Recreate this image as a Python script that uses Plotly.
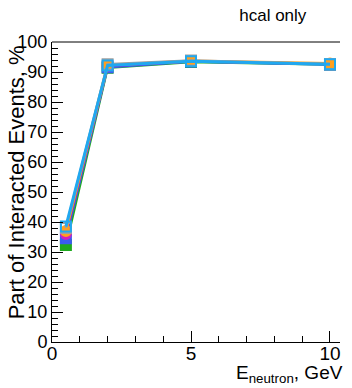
import plotly.graph_objects as go

energies = [0.5, 2, 5, 10]
series_names = ["s1", "s2", "s3", "s4", "s5", "s6"]
vals_green = [32.3, 91.4, 93.3, 92.5]
vals_blue = [34.6, 91.6, 93.5, 92.5]
vals_purple = [36.0, 92.0, 93.6, 92.7]
vals_orange = [37.0, 92.3, 93.7, 92.8]
vals_gray = [38.0, 92.6, 93.8, 92.7]
vals_sky = [38.5, 92.2, 93.6, 92.6]

styles = [
    (vals_green, "#1faa1f", "square", "#1faa1f", 2.5),
    (vals_blue, "#3a5cf0", "square", "#3a5cf0", 2.5),
    (vals_purple, "#9a10c8", "circle", "#d020c0", 2.5),
    (vals_orange, "#ffa020", "circle", "#ffa020", 3),
    (vals_gray, "#a0a0a0", "square-open", "#a0a0a0", 2.5),
    (vals_sky, "#20a8f0", "square-open", "#20a8f0", 3),
]

fig = go.Figure()
for (vals, col, sym, mcol, lw), nm in zip(styles, series_names):
    fig.add_trace(go.Scatter(
        x=energies, y=vals, mode="lines+markers", name=nm,
        line=dict(color=col, width=lw),
        marker=dict(symbol=sym, size=10, color=mcol,
                    line=dict(color=mcol, width=2)),
        showlegend=False,
    ))

font = "Liberation Sans, Arial, sans-serif"
fig.update_layout(
    width=352, height=388,
    margin=dict(l=52, r=12, t=42, b=46),
    paper_bgcolor="white", plot_bgcolor="white",
    font=dict(family=font, size=18, color="black"),
    title=dict(text="hcal only", x=0.775, xanchor="center", y=0.962,
               yanchor="middle", font=dict(size=17, family=font)),
    xaxis=dict(range=[0, 10.36], tickvals=[0, 5, 10], ticktext=["0", "5", "10"],
               ticks="inside", ticklen=11, tickwidth=1, tickcolor="black",
               minor=dict(dtick=1, ticks="inside", ticklen=6, tickcolor="black"),
               showgrid=False, zeroline=False, showline=True, linecolor="black",
               linewidth=1, mirror=False, tickfont=dict(size=19), ticklabelstandoff=-6),
    yaxis=dict(range=[0, 100], dtick=10, ticks="inside", ticklen=11, tickwidth=1,
               tickcolor="black",
               minor=dict(dtick=2, ticks="inside", ticklen=6, tickcolor="black"),
               showgrid=False, zeroline=False, showline=True, linecolor="black",
               linewidth=1, tickfont=dict(size=18), ticklabelstandoff=0),
    shapes=[dict(type="line", xref="paper", yref="paper", x0=0, x1=1, y0=1, y1=1,
                 line=dict(color="black", width=1))],
    annotations=[
        dict(text="E<sub>neutron</sub>, GeV", xref="paper", yref="paper",
             x=1.017, y=-0.06, xanchor="right", yanchor="top", showarrow=False,
             font=dict(size=19)),
        dict(text="Part of Interacted Events, %", xref="paper", yref="paper",
             x=-0.122, y=0.995, xanchor="center", yanchor="top", textangle=-90,
             showarrow=False, font=dict(size=22)),
    ],
)

fig.write_html("out.html", config={"displayModeBar": False},
               post_script="document.body.style.margin='0';document.body.style.overflow='hidden';")
